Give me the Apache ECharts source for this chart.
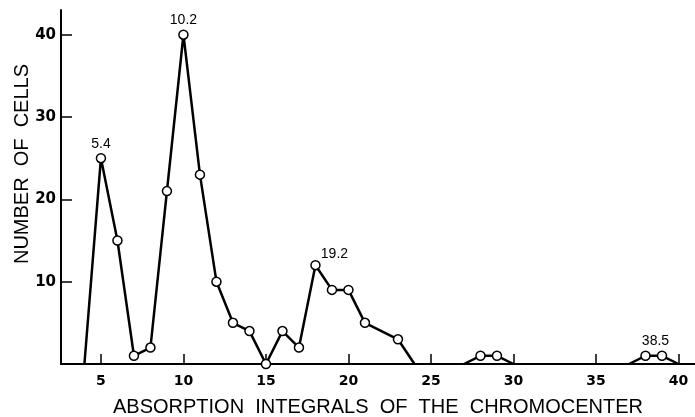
<!DOCTYPE html>
<html lang="en">

<head>
    <meta charset="UTF-8">
    <title>Chromocenter absorption integrals</title>
    <style>
        html,
        body,
        #chart {
            width: 100%;
            height: 100%;
            margin: 0;
            padding: 0;
            background: #fff;
        }
    </style>
</head>

<body>
    <div id="chart"></div>
    <script src="https://cdn.jsdelivr.net/npm/echarts@6/dist/echarts.min.js"></script>
    <script>
        // the curve is drawn in three separate pieces
        var segA_x = [4, 5, 6, 7, 8, 9, 10, 11, 12, 13, 14, 15, 16, 17, 18, 19, 20, 21, 23, 24];
        var segA_y = [0, 25, 15, 1, 2, 21, 40, 23, 10, 5, 4, 0, 4, 2, 12, 9, 9, 5, 3, 0];
        var segB_x = [27, 28, 29, 30];
        var segB_y = [0, 1, 1, 0];
        var segC_x = [37, 38, 39, 40];
        var segC_y = [0, 1, 1, 0];
        // points drawn without a circle (the ends of each piece)
        var noMarker = [4, 24, 27, 30, 37, 40];
        var peakLabels = { 5: '5.4', 10: '10.2', 18: '19.2', 38: '38.5' };
        var xTicks = [5, 10, 15, 20, 25, 30, 35, 40];
        var yTicks = [10, 20, 30, 40];

        var font = '"Liberation Sans", "DejaVu Sans", sans-serif';
        var tickFont = '"DejaVu Sans", sans-serif';

        function buildData() {
            var out = [];
            [[segA_x, segA_y], [segB_x, segB_y], [segC_x, segC_y]].forEach(function(seg, si) {
                if (si > 0) out.push('-');
                seg[0].forEach(function(x, i) {
                    var item = { value: [x, seg[1][i]] };
                    if (noMarker.indexOf(x) >= 0) item.symbol = 'none';
                    if (peakLabels[x]) {
                        item.label = {
                            show: true,
                            formatter: peakLabels[x],
                            position: 'top',
                            distance: 2
                        };
                        if (x === 18) item.label.offset = [19, 3];
                        if (x === 38) item.label.offset = [10, 0];
                    }
                    out.push(item);
                });
            });
            return out;
        }

        var chart = echarts.init(document.getElementById('chart'));
        chart.setOption({
            animation: false,
            grid: { left: 61, right: 0, top: 10, bottom: 53, containLabel: false, outerBoundsMode: 'none' },
            xAxis: {
                type: 'value',
                min: 2.58,
                max: 41,
                name: 'ABSORPTION  INTEGRALS  OF  THE  CHROMOCENTER',
                nameLocation: 'middle',
                nameGap: 33,
                nameMoveOverlap: false,
                nameTextStyle: { fontFamily: font, fontSize: 20, color: '#000' },
                axisLine: { lineStyle: { color: '#000', width: 2 } },
                axisTick: { show: true, inside: true, length: 10, customValues: xTicks, lineStyle: { color: '#000', width: 1.5 } },
                axisLabel: { customValues: xTicks, fontFamily: tickFont, fontWeight: 'bold', fontSize: 14, color: '#000', margin: 10 },
                splitLine: { show: false }
            },
            yAxis: {
                type: 'value',
                min: 0,
                max: 43,
                name: 'NUMBER  OF  CELLS',
                nameLocation: 'middle',
                nameGap: 29,
                nameMoveOverlap: false,
                nameTextStyle: { fontFamily: font, fontSize: 20, color: '#000', padding: [0, 0, 0, 46] },
                axisLine: { show: true, lineStyle: { color: '#000', width: 2 } },
                axisTick: { show: true, inside: true, length: 11, customValues: yTicks, lineStyle: { color: '#000', width: 1.5 } },
                axisLabel: { customValues: yTicks, fontFamily: tickFont, fontWeight: 'bold', fontSize: 15, color: '#000', margin: 5 },
                splitLine: { show: false }
            },
            series: [{
                type: 'line',
                data: buildData(),
                connectNulls: false,
                symbol: 'circle',
                symbolSize: 9,
                lineStyle: { color: '#000', width: 2.5 },
                itemStyle: { color: '#fff', borderColor: '#000', borderWidth: 1.5 },
                label: { fontFamily: font, fontSize: 14, color: '#000' },
                z: 3
            }]
        });
    </script>
</body>

</html>
